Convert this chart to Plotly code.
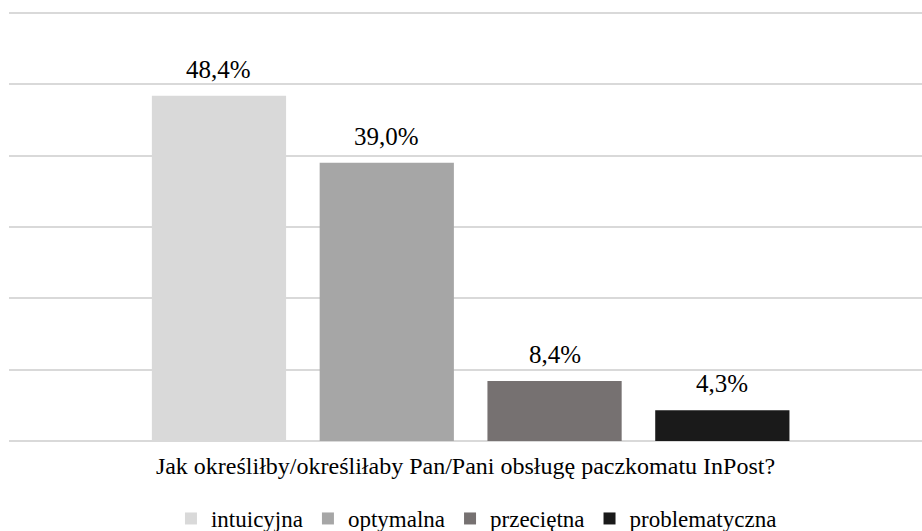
import plotly.graph_objects as go

categories = ["intuicyjna", "optymalna", "przeciętna", "problematyczna"]
values = [48.4, 39.0, 8.4, 4.3]
labels = ["48,4%", "39,0%", "8,4%", "4,3%"]
colors = ["#D9D9D9", "#A6A6A6", "#767171", "#1A1A1A"]
axis_title = "Jak określiłby/określiłaby Pan/Pani obsługę paczkomatu InPost?"

FONT = "Times New Roman"

fig = go.Figure()
for cat, val, col in zip(categories, values, colors):
    fig.add_trace(go.Bar(x=[cat], y=[val], name=cat, marker=dict(color=col, line=dict(width=0))))

for cat, val, lab in zip(categories, values, labels):
    fig.add_annotation(x=cat, y=val, text=lab, showarrow=False, yanchor="bottom",
                       yshift=11, font=dict(family=FONT, size=25, color="#000000"))

fig.update_layout(
    width=922, height=531,
    margin=dict(l=9, r=0, t=12, b=90, autoexpand=False),
    paper_bgcolor="white", plot_bgcolor="white",
    barmode="overlay", bargap=0.2,
    font=dict(family=FONT, size=24, color="#000000"),
    showlegend=True,
    legend=dict(orientation="h", x=0.512, xanchor="center", yref="container",
                y=0.064, yanchor="top",
                font=dict(family=FONT, size=23, color="#000000"), itemwidth=30,
                traceorder="normal"),
)
fig.update_xaxes(
    range=[-1.2515, 4.19], showticklabels=False, showgrid=False, zeroline=False,
    showline=False, ticks="", automargin=False,
    title=dict(text=axis_title, standoff=16, font=dict(family=FONT, size=24, color="#000000")),
)
fig.update_yaxes(
    range=[0, 60.15], dtick=10, showticklabels=False, showgrid=True, gridcolor="#D9D9D9",
    gridwidth=1.5, zeroline=True, zerolinecolor="#D9D9D9", zerolinewidth=1.5, ticks="",
    automargin=False,
)

fig.write_html("out.html")
